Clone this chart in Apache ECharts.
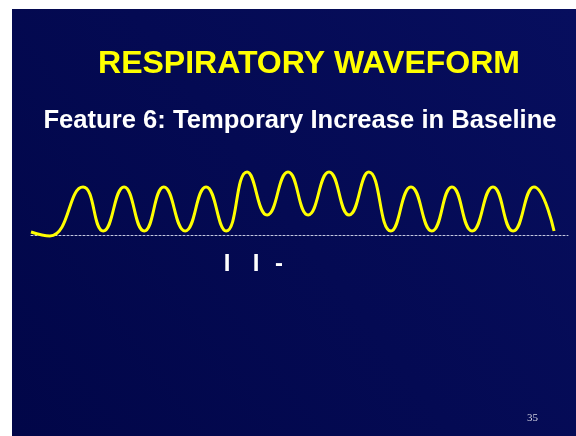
<!DOCTYPE html>
<html>
<head>
<meta charset="utf-8">
<style>
  html, body { margin: 0; padding: 0; background: #ffffff; }
  #chart { width: 576px; height: 436px; }
</style>
<script src="https://cdn.jsdelivr.net/npm/echarts@6/dist/echarts.min.js"></script>
</head>
<body>
<div id="chart"></div>
<script>
// Time (breath cycles) and amplitude
const times = [0, 0.46, 1.27, 1.76, 2.27, 2.76, 3.24, 3.76, 4.27, 4.76, 5.27, 5.76, 6.27, 6.76, 7.27, 7.76, 8.24, 8.78, 9.27, 9.78, 10.27, 10.76, 11.27, 11.76, 12.27, 12.76];
const amplitude = [3, -1, 48, 4, 48, 4, 48, 4, 48, 4, 63, 20, 63, 20, 63, 20, 63, 4, 48, 4, 48, 4, 48, 4, 48, 4];
const titleText = 'RESPIRATORY WAVEFORM';
const subtitleText = 'Feature 6: Temporary Increase in Baseline';
const markLabels = ['I', 'I', '-'];
const markX = [227, 256, 279];
const pageNumber = '35';

const chart = echarts.init(document.getElementById('chart'), null, { renderer: 'canvas' });

const graphics = [
  {
    type: 'rect', z: -10, silent: true,
    shape: { x: 12, y: 9, width: 564, height: 427 },
    style: {
      fill: new echarts.graphic.LinearGradient(0, 1, 1, 0, [
        { offset: 0, color: '#010648' },
        { offset: 1, color: '#070e5e' }
      ])
    }
  },
  {
    type: 'text', x: 309, y: 64, z: 5,
    style: { text: titleText, fill: '#ffff00', font: 'bold 32px "Liberation Sans", Arial, sans-serif', textAlign: 'center', textVerticalAlign: 'middle' }
  },
  {
    type: 'text', x: 300, y: 121, z: 5,
    style: { text: subtitleText, fill: '#ffffff', font: 'bold 25.6px "Liberation Sans", Arial, sans-serif', textAlign: 'center', textVerticalAlign: 'middle' }
  },
  {
    type: 'text', x: 527, y: 413, z: 5,
    style: { text: pageNumber, fill: '#d0d0e0', font: '11px "Liberation Serif", "Times New Roman", serif', textAlign: 'left', textVerticalAlign: 'top' }
  }
];
markLabels.forEach((t, i) => {
  graphics.push({
    type: 'text', x: markX[i], y: 264, z: 5,
    style: { text: t, fill: '#ffffff', font: 'bold 24px "Liberation Sans", Arial, sans-serif', textAlign: 'center', textVerticalAlign: 'middle' }
  });
});

chart.setOption({
  backgroundColor: '#ffffff',
  animation: false,
  graphic: graphics,
  grid: { left: 31, right: 8, top: 155, height: 100 },
  xAxis: {
    type: 'value', min: 0, max: 13.1,
    axisLine: { show: true, onZero: true, lineStyle: { color: '#c4c8e0', width: 1, type: [2, 2] } },
    axisTick: { show: false }, axisLabel: { show: false }, splitLine: { show: false }
  },
  yAxis: {
    type: 'value', min: -20, max: 80,
    axisLine: { show: false }, axisTick: { show: false }, axisLabel: { show: false }, splitLine: { show: false }
  },
  series: [{
    type: 'line',
    data: times.map((t, i) => [t, amplitude[i]]),
    smooth: 0.5,
    showSymbol: false,
    lineStyle: { color: '#ffff00', width: 3 },
    z: 3
  }]
});
</script>
</body>
</html>
